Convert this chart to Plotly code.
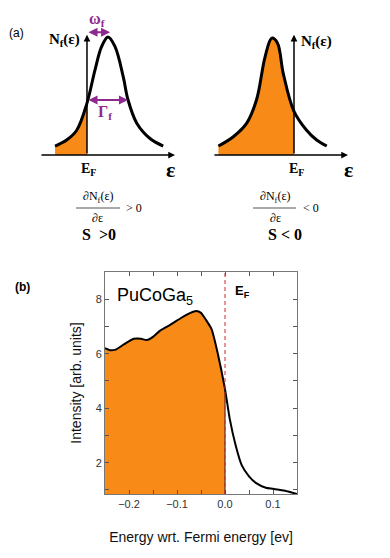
import plotly.graph_objects as go

W, H = 390, 558
SERIF = "Liberation Serif"
SANS = "Liberation Sans"
ORANGE = "#f88a17"
PURPLE = "#8e2a8e"

# ---- panel (a): schematic f-density of states (arbitrary units, E_F = 0) ----
eps_left = [-1.52, -0.97, -0.49, 0.0, 0.38, 0.70, 1.0, 1.33, 1.73, 1.95, 2.37, 3.0, 3.63]
dos_left = [0.076, 0.127, 0.21, 0.44, 0.72, 0.92, 1.0, 0.92, 0.66, 0.47, 0.27, 0.14, 0.076]

eps_right = [-3.6, -2.89, -2.25, -1.78, -1.38, -1.06, -0.79, -0.51, 0.0, 0.6, 1.08, 1.56]
dos_right = [0.076, 0.155, 0.27, 0.47, 0.83, 0.99, 0.95, 0.69, 0.37, 0.21, 0.127, 0.076]

# axis extents of the two sketches (eps_min, eps_max, dos_max)
axis_left = [-2.24, 4.19, 1.02]
axis_right = [-3.86, 2.57, 1.02]
omega_f = [0.0, 1.1, 1.04]      # from, to, height
gamma_f = [0.0, 1.95, 0.466]

# ---- panel (b): PuCoGa5 spectrum ----
energy = [-0.25, -0.24, -0.228, -0.21, -0.19, -0.175, -0.163, -0.15, -0.135, -0.115,
          -0.09, -0.072, -0.06, -0.05, -0.04, -0.028, -0.015, 0.0, 0.01, 0.022,
          0.035, 0.05, 0.065, 0.085, 0.1, 0.125, 0.15]
intensity = [6.2, 6.13, 6.15, 6.35, 6.55, 6.55, 6.5, 6.62, 6.85, 7.05,
             7.33, 7.5, 7.57, 7.5, 7.25, 6.9, 6.0, 4.7, 3.6, 2.65,
             1.9, 1.5, 1.25, 1.08, 1.04, 0.97, 0.85]


def px(x):
    return x / W


def py(y):
    return 1 - y / H


def ann(text, x, y, size, family=SERIF, color="black", xanchor="center"):
    return dict(text=text, x=px(x), y=py(y), xref="paper", yref="paper",
                showarrow=False, xanchor=xanchor, yanchor="middle",
                font=dict(family=family, size=size, color=color))


def arrow(xa, x0, x1, y0, y1, color="black", width=1.5, both=False):
    return dict(text="", x=x1, y=y1, ax=x0, ay=y0, xref=xa[0], yref=xa[1],
                axref=xa[0], ayref=xa[1], showarrow=True, arrowhead=2,
                arrowsize=0.9, arrowwidth=width, arrowcolor=color,
                arrowside="end+start" if both else "end")


fig = go.Figure()

# sketches
for ex, dy, xa, ya in [(eps_left, dos_left, "x2", "y2"), (eps_right, dos_right, "x3", "y3")]:
    fx = [e for e in ex if e <= 0]
    fy = [d for e, d in zip(ex, dy) if e <= 0]
    fig.add_trace(go.Scatter(x=fx, y=fy, xaxis=xa, yaxis=ya, mode="lines",
                             line=dict(width=0, shape="spline"), fill="tozeroy",
                             fillcolor=ORANGE, showlegend=False, hoverinfo="skip"))
    fig.add_trace(go.Scatter(x=ex, y=dy, xaxis=xa, yaxis=ya, mode="lines",
                             line=dict(color="black", width=3, shape="spline"),
                             showlegend=False))

# spectrum
fe = [e for e in energy if e <= 0]
fi = [v for e, v in zip(energy, intensity) if e <= 0]
fig.add_trace(go.Scatter(x=fe, y=fi, mode="lines", fill="tozeroy", fillcolor=ORANGE,
                         line=dict(width=0, shape="spline", smoothing=0.6),
                         showlegend=False, hoverinfo="skip"))
fig.add_trace(go.Scatter(x=energy, y=intensity, mode="lines",
                         line=dict(color="black", width=2, shape="spline", smoothing=0.6),
                         showlegend=False))

ef_val = intensity[energy.index(0.0)]
shapes = [
    dict(type="line", xref="x", yref="y", x0=0, x1=0, y0=0.85, y1=ef_val,
         line=dict(color="#222", width=1)),
    dict(type="line", xref="x", yref="y domain", x0=0, x1=0, y0=0, y1=1,
         line=dict(color="#d42a2a", width=1, dash="4px,3px")),
    # fraction bars
    dict(type="line", xref="paper", yref="paper", x0=px(76), x1=px(120), y0=py(208), y1=py(208),
         line=dict(color="#555", width=1)),
    dict(type="line", xref="paper", yref="paper", x0=px(253), x1=px(296), y0=py(208), y1=py(208),
         line=dict(color="#555", width=1)),
]

annotations = [
    arrow(("x2", "y2"), axis_left[0], axis_left[1], 0, 0),
    arrow(("x2", "y2"), 0, 0, 0, axis_left[2]),
    arrow(("x3", "y3"), axis_right[0], axis_right[1], 0, 0),
    arrow(("x3", "y3"), 0, 0, 0, axis_right[2]),
    arrow(("x2", "y2"), omega_f[0], omega_f[1], omega_f[2], omega_f[2], PURPLE, 2, True),
    arrow(("x2", "y2"), gamma_f[0], gamma_f[1], gamma_f[2], gamma_f[2], PURPLE, 2, True),
    ann("(a)", 16, 33, 12, SANS),
    ann("<b>N<sub>f</sub>(ε)</b>", 64, 40, 15),
    ann("<b>ω<sub>f</sub></b>", 97, 19, 16, color=PURPLE),
    ann("<b>Γ<sub>f</sub></b>", 105, 112, 16, color=PURPLE),
    ann("<b>E<sub>F</sub></b>", 88, 169, 14),
    ann("<b>ε</b>", 170, 169, 22),
    ann("<b>N<sub>f</sub>(ε)</b>", 316, 42, 15),
    ann("<b>E<sub>F</sub></b>", 296, 169, 14),
    ann("<b>ε</b>", 348, 169, 22),
    ann("∂N<sub>f</sub>(ε)", 98, 197, 12),
    ann("∂ε", 97, 218, 12),
    ann("&gt; 0", 134, 208, 12),
    ann("<b>S  &gt;0</b>", 99, 234, 16),
    ann("∂N<sub>f</sub>(ε)", 275, 197, 12),
    ann("∂ε", 275, 218, 12),
    ann("&lt; 0", 311, 208, 12),
    ann("<b>S &lt; 0</b>", 285, 234, 16),
    ann("<b>(b)</b>", 22, 287, 12, SANS),
    ann("PuCoGa<sub>5</sub>", 115, 296, 18, SANS, xanchor="left"),
    ann("<b>E<sub>F</sub></b>", 233, 291, 13, SANS, xanchor="left"),
]

axfont = dict(family=SANS, size=11, color="#333")
frame = dict(showline=True, mirror="ticks", linecolor="#777", linewidth=1,
             ticks="inside", ticklen=4, tickcolor="#555", showgrid=False,
             zeroline=False, tickfont=axfont)

fig.update_layout(
    width=W, height=H, margin=dict(l=0, r=0, t=0, b=0),
    paper_bgcolor="white", plot_bgcolor="white",
    xaxis=dict(domain=[px(105), px(297)], range=[-0.25, 0.15], tick0=0, dtick=0.1,
               tickformat=".1f", anchor="y",
               minor=dict(dtick=0.05, ticks="inside", ticklen=4, tickcolor="#555"),
               title=dict(text="Energy wrt. Fermi energy [ev]", standoff=22,
                          font=dict(family=SANS, size=14, color="#111")), **frame),
    yaxis=dict(domain=[py(494), py(272)], range=[0.85, 9.0], tick0=0, dtick=2, anchor="x",
               minor=dict(dtick=1, ticks="inside", ticklen=4, tickcolor="#555"),
               title=dict(text="Intensity [arb. units]", standoff=10,
                          font=dict(family=SANS, size=14, color="#111")), **frame),
    xaxis2=dict(domain=[px(30), px(185)], range=[-2.714, 4.667], visible=False, anchor="y2"),
    yaxis2=dict(domain=[py(160), py(25)], range=[-0.0424, 1.1017], visible=False, anchor="x2"),
    xaxis3=dict(domain=[px(205), px(355)], range=[-4.238, 2.905], visible=False, anchor="y3"),
    yaxis3=dict(domain=[py(160), py(25)], range=[-0.0424, 1.1017], visible=False, anchor="x3"),
    shapes=shapes,
    annotations=annotations,
)

# the page body has a default 8px margin; drop it so the figure sits at the window origin
fig.write_html("out.html", config={"displayModeBar": False},
               post_script="document.body.style.margin='0';")
